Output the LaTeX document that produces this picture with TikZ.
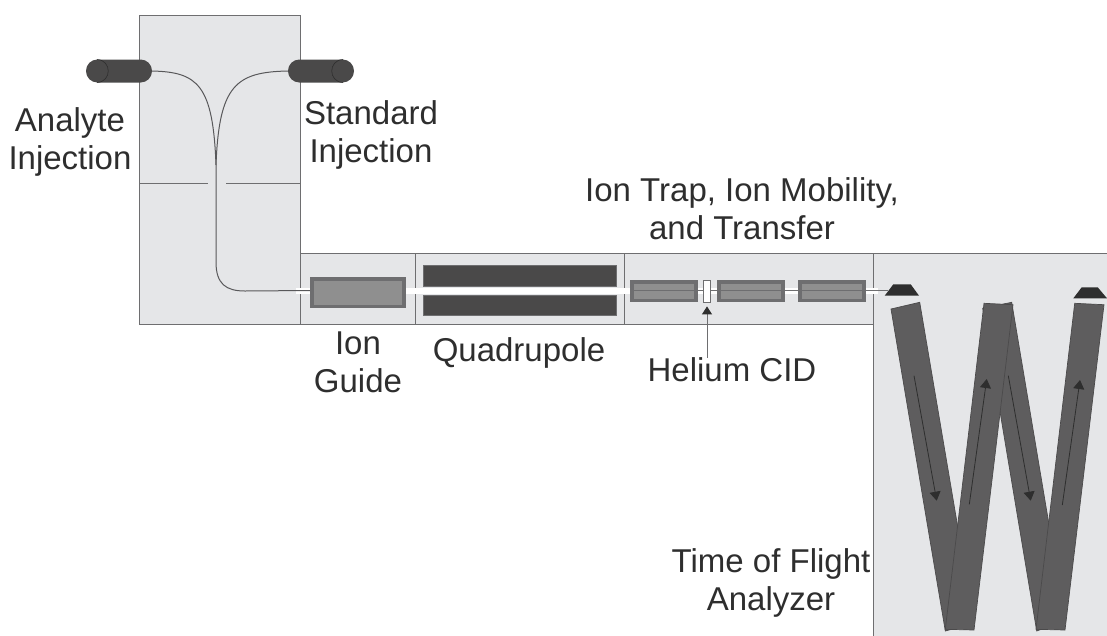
\documentclass[tikz,border=0pt]{standalone}
\usepackage{fontspec}
\setmainfont{Liberation Sans}
\usetikzlibrary{arrows.meta}
\definecolor{panelgray}{HTML}{E5E6E8}
\definecolor{edgegray}{HTML}{6E6E70}
\definecolor{rodgray}{HTML}{4A4949}
\definecolor{lensgray}{HTML}{8F8F8F}
\definecolor{bargray}{HTML}{5E5D5E}
\definecolor{inkgray}{HTML}{2E2E2E}
\begin{document}
\begin{tikzpicture}[x=1pt, y=-1pt,
  every node/.style={font=\fontsize{33}{38}\selectfont, text=inkgray, align=center, inner sep=0pt},
  panel/.style={fill=panelgray, draw=edgegray, line width=1pt},
  rule/.style={draw=edgegray, line width=1pt},
  capillary/.style={draw=edgegray!80!black, line width=1pt},
  syringe/.style={fill=rodgray, rounded corners=11.4pt},
  syringeend/.style={draw=inkgray, line width=.6pt},
  rod/.style={fill=rodgray, draw=edgegray, line width=.6pt},
  lens/.style={fill=edgegray, draw=edgegray, line width=1pt},
  lensface/.style={fill=lensgray},
  beam/.style={draw=white, line width=5.5pt},
  bar/.style={fill=bargray, draw=bargray!80!black, line width=.7pt},
  mirror/.style={fill=inkgray},
  flight/.style={draw=inkgray, line width=.8pt, -{Triangle[length=9pt, width=11pt]}},
  slitbox/.style={draw=edgegray, fill=white, line width=.8pt, minimum width=7.5pt, minimum height=22pt}]
\useasboundingbox (0,0) rectangle (1107,635);
% housings
\path[panel] (139,15) rectangle (300,324);
\path[panel] (300,253) rectangle (415,324);
\path[panel] (415,253) rectangle (624,324);
\path[panel] (624,253) rectangle (873,324);
\path[panel] (873,253) rectangle (1112,640);
\path[rule] (139,183) -- (208,183);
\path[rule] (226,183) -- (300,183);
% ion beam
\path[beam] (296,291) -- (878,291);
% injectors
\path[syringe] (86,59.5) rectangle (152,82.5);
\path[syringe] (288,59.5) rectangle (354,82.5);
\path[syringeend] (97,59.5) .. controls (112,60) and (112,82) .. (97,82.5);
\path[syringeend] (343,59.5) .. controls (328,60) and (328,82) .. (343,82.5);
% capillaries
\path[capillary] (152,71) .. controls (198,72) and (213,85) .. (216,165) -- (216,262) .. controls (216,284) and (226,291) .. (245,291) -- (310,290.5);
\path[capillary] (288,71) .. controls (236,72) and (219,85) .. (216,165);
% lenses
\foreach \xa/\xb/\ya/\yb in {310/405.5/277.5/307.5, 630/697.5/280.5/301.5, 717/784/280.5/301.5, 798/865.5/280.5/301.5} {
  \path[lens] (\xa,\ya) rectangle (\xb,\yb);
  \path[lensface] (\xa+3.5,\ya+3) rectangle (\xb-3.5,\yb-3);
}
\path[rule, line width=.7pt] (630,290.5) -- (888,290.5);
% quadrupole
\path[rod] (423.5,265.5) rectangle (616.5,286.5);
\path[rod] (423.5,295) rectangle (616.5,315.5);
% analyzer
\path[bar] (891,309) -- (919.7,302.3) -- (974,623) -- (945.3,631) -- cycle;
\path[bar] (982.7,308.3) -- (1011.7,302.3) -- (1065,620) -- (1036.7,631) -- cycle;
\path[bar] (984,303.3) -- (1013,304.7) -- (974,630) -- (945.3,629.3) -- cycle;
\path[bar] (1074.7,303.3) -- (1104,304.7) -- (1065,630) -- (1036,629.3) -- cycle;
\foreach \xa/\ya/\xb/\yb in {914/375.7/936.7/500.7, 969.3/504.3/986.7/379, 1008.3/375.7/1030.7/500.7, 1062.3/505/1080/380} {
  \path[flight] (\xa,\ya) -- (\xb,\yb);
}
\path[mirror] (893.3,284.3) -- (910.7,284.3) -- (919,295.7) -- (884.7,295.7) -- cycle;
\path[mirror] (1081.7,287.3) -- (1097.7,287.3) -- (1107,298.3) -- (1073.3,298.3) -- cycle;
% labels
\node (analyte) at (70,141.5) {Analyte\\Injection};
\node (standard) at (371,134.5) {Standard\\Injection};
\node (trap) at (742,209) {Ion Trap, Ion Mobility,\\and Transfer};
\node (guide) at (358,362) {Ion\\Guide};
\node (quad) at (519,353) {Quadrupole};
\node (helium) at (732,370) {Helium CID};
\node (tof) at (771,582.5) {Time of Flight\\Analyzer};
\node[slitbox] (slit) at (707,291) {};
\draw[edgegray, line width=1pt, -{Triangle[length=8pt, width=10pt, color=inkgray]}, shorten >=4pt] (helium.north -| slit) -- (slit.south);
\end{tikzpicture}
\end{document}
